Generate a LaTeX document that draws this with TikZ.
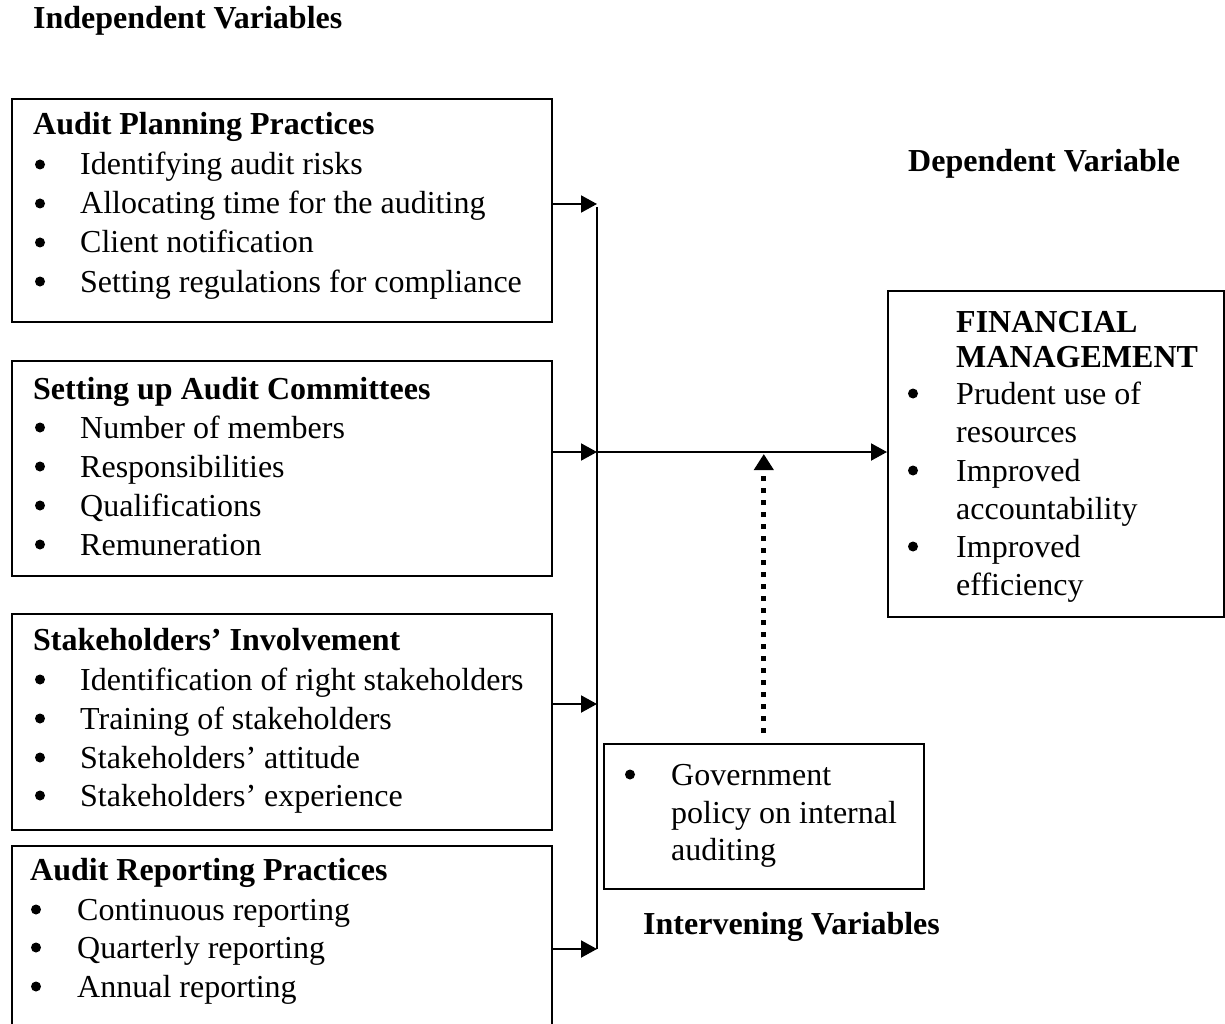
\documentclass[tikz,border=0pt]{standalone}
\usepackage{fontspec}
\setmainfont{Liberation Serif}
\usetikzlibrary{arrows.meta}
\begin{document}
\begin{tikzpicture}[x=1pt,y=-1pt,
 box/.style={draw, line width=1.6pt, inner sep=0pt, anchor=north west},
 txt/.style={anchor=base west, inner sep=0pt, font=\fontsize{32}{38}\selectfont},
 ttl/.style={anchor=base west, inner sep=0pt, font=\fontsize{32}{38}\selectfont\bfseries},
 bul/.style={circle, fill, inner sep=0pt, minimum size=10pt, yshift=10.5pt},
 arr/.style={line width=2pt, -{Triangle[length=16pt,width=17pt]}},
 dotarr/.style={line width=4.8pt, line cap=butt, dash pattern=on 4.8pt off 7.2pt, -{Triangle[length=16pt,width=19pt]}},
]
\useasboundingbox (0,0) rectangle (1225,1024);
\fill[white] (0,0) rectangle (1225,1024);

% boxes
\node[box, minimum width=540pt, minimum height=223pt] (b1) at (11,98) {};
\node[box, minimum width=540pt, minimum height=215pt] (b2) at (11,360) {};
\node[box, minimum width=540pt, minimum height=216pt] (b3) at (11,613) {};
\node[box, minimum width=540pt, minimum height=200pt] (b4) at (11,845) {};
\node[box, minimum width=336pt, minimum height=326pt] (bf) at (887,290) {};
\node[box, minimum width=320pt, minimum height=145pt] (bi) at (603,743) {};

% headings
\node[ttl] (hind) at (33,29) {Independent Variables};
\node[ttl] (hdep) at (908,172) {Dependent Variable};
\node[ttl] (hint) at (643,934) {Intervening Variables};

% box 1
\node[ttl] (t1) at (33,135) {Audit Planning Practices};
\foreach \y/\s [count=\i] in {175/Identifying audit risks, 214/Allocating time for the auditing, 253/Client notification, 292/Setting regulations for compliance}{
  \node[bul] (b1d\i) at (40,\y) {};
  \node[txt] (b1t\i) at (80,\y) {\s};
}
% box 2
\node[ttl] (t2) at (33,399) {Setting up Audit Committees};
\foreach \y/\s [count=\i] in {438/Number of members, 477/Responsibilities, 516/Qualifications, 555/Remuneration}{
  \node[bul] (b2d\i) at (40,\y) {};
  \node[txt] (b2t\i) at (80,\y) {\s};
}
% box 3
\node[ttl] (t3) at (33,650) {Stakeholders’ Involvement};
\foreach \y/\s [count=\i] in {690/Identification of right stakeholders, 729/Training of stakeholders, 768/Stakeholders’ attitude, 806/Stakeholders’ experience}{
  \node[bul] (b3d\i) at (40,\y) {};
  \node[txt] (b3t\i) at (80,\y) {\s};
}
% box 4
\node[ttl] (t4) at (30,880) {Audit Reporting Practices};
\foreach \y/\s [count=\i] in {920/Continuous reporting, 958/Quarterly reporting, 997/Annual reporting}{
  \node[bul] (b4d\i) at (36,\y) {};
  \node[txt] (b4t\i) at (77,\y) {\s};
}
% financial management
\node[ttl] (tf1) at (956,332) {FINANCIAL};
\node[ttl] (tf2) at (956,367) {MANAGEMENT};
\node[bul] (fd1) at (913,404) {};
\node[txt] (ft1) at (956,404) {Prudent use of};
\node[txt] (ft2) at (956,442) {resources};
\node[bul] (fd2) at (913,481) {};
\node[txt] (ft3) at (956,481) {Improved};
\node[txt] (ft4) at (956,519) {accountability};
\node[bul] (fd3) at (913,557) {};
\node[txt] (ft5) at (956,557) {Improved};
\node[txt] (ft6) at (956,595) {efficiency};
% intervening
\node[bul] (id1) at (630,785) {};
\node[txt] (it1) at (671,785) {Government};
\node[txt] (it2) at (671,823) {policy on internal};
\node[txt] (it3) at (671,860) {auditing};

% connectors
\coordinate (vt) at (597,204);
\coordinate (v2) at (597,452);
\coordinate (v3) at (597,704);
\coordinate (vb) at (597,949);
\draw[line width=1.6pt] ([yshift=-3pt]vt) -- (vb);
\draw[arr] (b1.east |- vt) -- (vt);
\draw[arr] (b2.east |- v2) -- (v2);
\draw[arr] (b3.east |- v3) -- (v3);
\draw[arr] (b4.east |- vb) -- (vb);
\draw[arr] (v2) -- (bf.west |- v2);
\draw[dotarr] ([yshift=10pt]bi.north) -- ([yshift=-2pt]bi.north |- v2);
\end{tikzpicture}
\end{document}
